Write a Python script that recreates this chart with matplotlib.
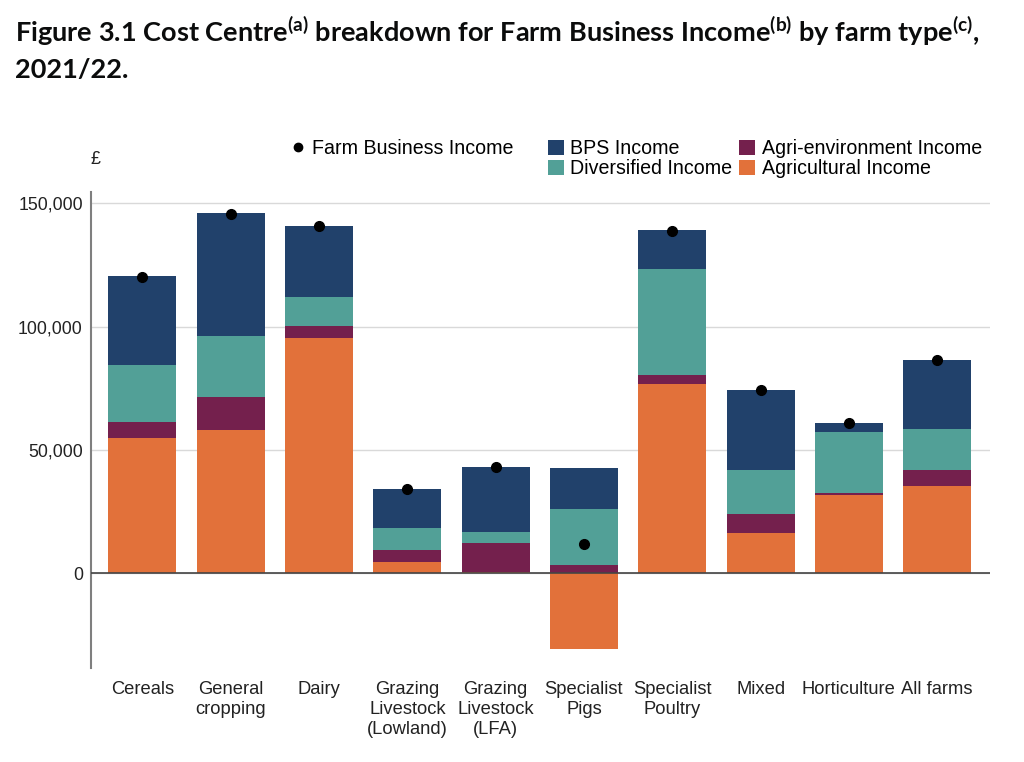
import numpy as np
import matplotlib
matplotlib.use("Agg")
import matplotlib.pyplot as plt
from matplotlib.patches import Patch
from matplotlib.lines import Line2D

# ---------------------------------------------
# DATA (GBP per farm, 2021/22)
# ---------------------------------------------
farm_types = ["Cereals", "General\ncropping", "Dairy", "Grazing\nLivestock\n(Lowland)",
              "Grazing\nLivestock\n(LFA)", "Specialist\nPigs", "Specialist\nPoultry",
              "Mixed", "Horticulture", "All farms"]
agricultural = [55000, 58000, 95500, 4600, 500, -30600, 76900, 16400, 31800, 35200]
agri_env = [6300, 13300, 4900, 5000, 11900, 3500, 3400, 7500, 900, 6600]
diversified = [23300, 25000, 11700, 8700, 4200, 22600, 42900, 17900, 24500, 16800]
bps = [35900, 49600, 28800, 15800, 26600, 16700, 15800, 32500, 3800, 27800]
fbi = [120200, 145700, 140800, 34000, 43100, 11900, 138900, 74200, 60900, 86500]

c_agri = "#E2713A"
c_env = "#74204D"
c_div = "#52A097"
c_bps = "#21416B"

plt.rcParams["font.family"] = ["Liberation Sans", "DejaVu Sans"]
plt.rcParams["mathtext.fontset"] = "custom"
plt.rcParams["mathtext.rm"] = "Lato:bold"
plt.rcParams["mathtext.bf"] = "Lato:bold"

fig = plt.figure(figsize=(10.24, 7.62), dpi=100)
ax = fig.add_axes([0.089, 0.123, 0.878, 0.625])

x = np.arange(len(farm_types))
w = 0.77

# stack positives upwards from zero, negatives downwards
pos_base = np.zeros(len(x))
neg_base = np.zeros(len(x))
for vals, col in [(agricultural, c_agri), (agri_env, c_env),
                  (diversified, c_div), (bps, c_bps)]:
    v = np.array(vals, dtype=float)
    base = np.where(v >= 0, pos_base, neg_base)
    ax.bar(x, v, w, bottom=base, color=col, linewidth=0, zorder=2)
    pos_base = pos_base + np.where(v >= 0, v, 0)
    neg_base = neg_base + np.where(v < 0, v, 0)

ax.plot(x, fbi, "o", color="black", markersize=7, zorder=4)

ax.axhline(0, color="#444444", linewidth=1.2, zorder=3)
ax.set_ylim(-38500, 154500)
ax.set_xlim(-0.58, 9.6)
ax.set_yticks([0, 50000, 100000, 150000])
ax.set_yticklabels(["0", "50,000", "100,000", "150,000"])
ax.yaxis.grid(True, color="#d9d9d9", linewidth=1, zorder=0)
ax.set_axisbelow(True)
ax.set_xticks(x)
ax.set_xticklabels(farm_types, fontsize=13.2, color="#222222", linespacing=1.25)
ax.tick_params(axis="x", length=0, pad=9)
ax.tick_params(axis="y", length=0, pad=6, labelsize=12.8, labelcolor="#222222")
for s in ["top", "right", "bottom"]:
    ax.spines[s].set_visible(False)
ax.spines["left"].set_color("#7f7f7f")
ax.spines["left"].set_linewidth(1.5)

fig.text(0.088, 0.785, "£", fontsize=13, color="#222222")

# legends: the dot on its own, then the four income parts in two columns
leg_kw = dict(frameon=False, fontsize=14.1, handlelength=0.8, handleheight=0.85,
              handletextpad=0.35, labelspacing=0.05, borderpad=0, borderaxespad=0)
fig.legend([Line2D([], [], marker="o", color="black", linestyle="none", markersize=6)],
           ["Farm Business Income"], loc="upper left",
           bbox_to_anchor=(0.283, 0.817), **leg_kw)
fig.legend([Patch(facecolor=c_bps), Patch(facecolor=c_div),
            Patch(facecolor=c_env), Patch(facecolor=c_agri)],
           ["BPS Income", "Diversified Income", "Agri-environment Income",
            "Agricultural Income"],
           ncol=2, loc="upper left", bbox_to_anchor=(0.535, 0.817),
           columnspacing=0.35, **leg_kw)

# title with superscripts
fig.text(0.015, 0.945,
         r"Figure 3.1 Cost Centre$^{\mathbf{(a)}}$ breakdown for Farm Business Income"
         r"$^{\mathbf{(b)}}$ by farm type$^{\mathbf{(c)}}$,",
         fontsize=19.5, fontweight="bold", family="Lato", color="#0b0c0c")
fig.text(0.015, 0.898, "2021/22.", fontsize=19.5, fontweight="bold", family="Lato",
         color="#0b0c0c")

fig.savefig("out.png", dpi=100)
